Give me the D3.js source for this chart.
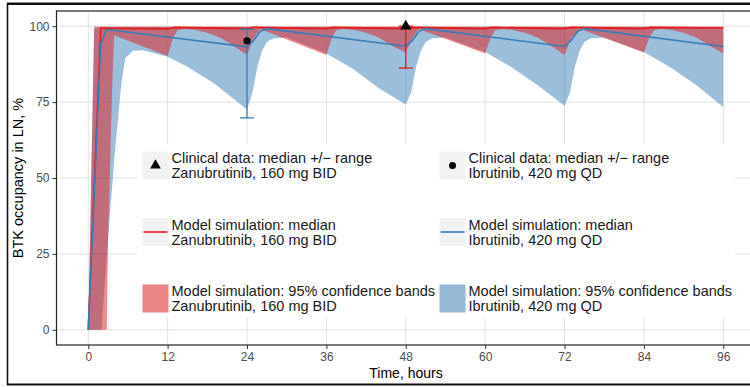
<!DOCTYPE html>
<html>
<head>
<meta charset="utf-8">
<script src="https://cdn.jsdelivr.net/npm/d3@7"></script>
<style>
body { margin: 0; background: #fff; }
svg { display: block; font-family: Arial, "Liberation Sans", sans-serif; }
</style>
</head>
<body>
<svg id="chart" width="750" height="387"></svg>
<script>
const xTicks = [0, 12, 24, 36, 48, 60, 72, 84, 96];
const yTicks = [0, 25, 50, 75, 100];

// [time in hours, BTK occupancy %]
const zanuMedian = [[0,0],[1.9,99.3],[12,99.1],[13,99.6],[24,99.2],[25,99.6],[36,99.2],[37,99.6],[48,99.2],[49,99.6],[60,99.2],[61,99.6],[72,99.2],[73,99.6],[84,99.2],[85,99.6],[96,99.4]];
const zanuUpper = [[0,0],[0.9,99.9],[96,99.9]];
const zanuLower = [[0,0],[2.8,0],[3.0,30],[3.6,79],[3.9,97],[12,90.2],[12.8,96],[13.5,98.7],[14.5,99.1],[16,98.8],[18,97.8],[20,96.2],[22,93.5],[24,90.5],
  [25,96],[26,99.1],[36,90.5],[36.8,96],[37.5,98.7],[38.5,99.1],[40,98.8],[42,97.8],[44,96.2],[46,93.5],[48,91.3],
  [49,96],[50,99.1],[60,91],[60.8,96],[61.5,98.7],[62.5,99.1],[64,98.8],[66,97.8],[68,96.2],[70,93.5],[72,90.5],
  [73,96],[74.4,99.1],[84,91.3],[84.8,96],[85.5,98.7],[86.5,99.1],[88,98.8],[90,97.8],[92,96.2],[94,93.5],[96,91]];

const ibruMedian = [[0,0],[1.9,94.5],[2.8,98.9],[24,93.2],[25,95.3],[26,98.3],[27,99.2],[48,93.4],[49,95.3],[50,98.3],[51,99.2],[72,93.3],[73,95.3],[74,98.3],[75,99.2],[96,93.3]];
const ibruUpper = [[0,0],[0.9,99.3],[2,99.7],[96,99.7]];
const ibruLower = [[0,0],[2,0],[3,30],[4,58],[5,81],[5.6,89.5],[6.8,91.9],[8.3,92.1],[12,89.9],[15,86.6],[19,81.2],[24,72.6],
  [24.8,78],[25.6,87],[26.3,92],[27,94.8],[28,96],[30,96.3],[36,91],[40,86],[44,79.5],[48,74.2],
  [48.8,78],[49.6,87],[50.3,92],[51,94.8],[52,96],[54,96.3],[60,91.5],[64,86.5],[68,80.5],[72,73.8],
  [72.8,78],[73.6,87],[74.3,92],[75,94.8],[76,96],[78,96.3],[84,91.5],[88,86.5],[92,80.5],[96,73.4]];

// clinical data: [time, median, min, max]
const zanuClinical = [[48, 100, 86.2, 100]];
const ibruClinical = [[24, 95.2, 69.8, 99.0]];

const legendTitles = ["Clinical data: median +/\u2212 range", "Model simulation: median", "Model simulation: 95% confidence bands"];
const drugNames = ["Zanubrutinib, 160 mg BID", "Ibrutinib, 420 mg QD"];

const red = "#E41A1C";
const blue = "#377EB8";

const svg = d3.select("#chart");
const x = d3.scaleLinear().domain([-4.8, 100.8]).range([56.5, 755]);
const y = d3.scaleLinear().domain([-5, 105]).range([345, 11]);

// grid
const grid = svg.append("g");
grid.selectAll(".gx").data(xTicks).enter().append("line")
  .attr("x1", d => x(d)).attr("x2", d => x(d)).attr("y1", 11).attr("y2", 345)
  .attr("stroke", "#e2e2e2").attr("stroke-width", 1);
grid.selectAll(".gy").data(yTicks).enter().append("line")
  .attr("x1", 56.5).attr("x2", 755).attr("y1", d => y(d)).attr("y2", d => y(d))
  .attr("stroke", "#e2e2e2").attr("stroke-width", 1);

const line = d3.line().x(d => x(d[0])).y(d => y(d[1]));
function band(lo, hi) { return line(hi.concat(lo.slice().reverse())) + "Z"; }

svg.append("path").attr("d", band(ibruLower, ibruUpper)).attr("fill", blue).attr("fill-opacity", 0.5);
svg.append("path").attr("d", band(zanuLower, zanuUpper)).attr("fill", red).attr("fill-opacity", 0.5);

svg.append("path").attr("d", line(zanuMedian)).attr("fill", "none").attr("stroke", red).attr("stroke-width", 1.6);
svg.append("path").attr("d", line(ibruMedian)).attr("fill", "none").attr("stroke", blue).attr("stroke-width", 1.6);

// error bars
function errorbars(data, col) {
  const g = svg.append("g").attr("stroke", col).attr("stroke-width", 1.3);
  data.forEach(d => {
    g.append("line").attr("x1", x(d[0])).attr("x2", x(d[0])).attr("y1", y(d[2])).attr("y2", y(d[3]));
    g.append("line").attr("x1", x(d[0]) - 7).attr("x2", x(d[0]) + 7).attr("y1", y(d[2])).attr("y2", y(d[2]));
    g.append("line").attr("x1", x(d[0]) - 7).attr("x2", x(d[0]) + 7).attr("y1", y(d[3])).attr("y2", y(d[3]));
  });
}
errorbars(zanuClinical, red);
errorbars(ibruClinical, blue);

svg.selectAll(".tri").data(zanuClinical).enter().append("path")
  .attr("d", d3.symbol(d3.symbolTriangle, 55))
  .attr("transform", d => "translate(" + x(d[0]) + "," + y(d[1]) + ")")
  .attr("fill", "#000");
svg.selectAll(".dot").data(ibruClinical).enter().append("circle")
  .attr("cx", d => x(d[0])).attr("cy", d => y(d[1])).attr("r", 3.6)
  .attr("fill", "#000");

// panel border
svg.append("rect").attr("x", 56.5).attr("y", 11).attr("width", 700).attr("height", 334)
  .attr("fill", "none").attr("stroke", "#222").attr("stroke-width", 1.2);

// axes
const xAxis = svg.append("g").attr("transform", "translate(0,345)")
  .call(d3.axisBottom(x).tickValues(xTicks).tickSize(4).tickPadding(3));
const yAxis = svg.append("g").attr("transform", "translate(56.5,0)")
  .call(d3.axisLeft(y).tickValues(yTicks).tickSize(4).tickPadding(3));
[xAxis, yAxis].forEach(a => {
  a.select(".domain").remove();
  a.selectAll(".tick line").attr("stroke", "#333");
  a.selectAll(".tick text").attr("fill", "#4d4d4d").style("font-size", "12px")
    .style("font-family", "Arial, 'Liberation Sans', sans-serif");
});

svg.append("text").attr("x", 406).attr("y", 378).attr("text-anchor", "middle")
  .style("font-size", "14px").attr("fill", "#000").text("Time, hours");
svg.append("text").attr("transform", "translate(23,178) rotate(-90)").attr("text-anchor", "middle")
  .style("font-size", "14.5px").attr("fill", "#000").text("BTK occupancy in LN, %");

// legend
const leg = svg.append("g");
leg.append("rect").attr("x", 137).attr("y", 144).attr("width", 598).attr("height", 173).attr("fill", "#fff");
const colX = [142.5, 439.5];
const rowY = [151.5, 218, 284.5];
const keyW = 26, keyH = 28;
const cols = [red, blue];
for (let c = 0; c < 2; c++) {
  for (let r = 0; r < 3; r++) {
    const kx = colX[c], ky = rowY[r], cy = ky + keyH / 2;
    leg.append("rect").attr("x", kx).attr("y", ky).attr("width", keyW).attr("height", keyH).attr("fill", "#f2f2f2");
    if (r === 0) {
      if (c === 0) {
        leg.append("path").attr("d", d3.symbol(d3.symbolTriangle, 50))
          .attr("transform", "translate(" + (kx + keyW / 2) + "," + cy + ")").attr("fill", "#000");
      } else {
        leg.append("circle").attr("cx", kx + keyW / 2).attr("cy", cy).attr("r", 3.5).attr("fill", "#000");
      }
    } else if (r === 1) {
      leg.append("line").attr("x1", kx + 1).attr("x2", kx + keyW - 1).attr("y1", cy).attr("y2", cy)
        .attr("stroke", cols[c]).attr("stroke-width", 1.6);
    } else {
      leg.append("rect").attr("x", kx).attr("y", ky).attr("width", keyW).attr("height", keyH)
        .attr("fill", cols[c]).attr("fill-opacity", 0.5);
    }
    const t = leg.append("text").attr("x", kx + keyW + 3).attr("y", cy - 2.2)
      .style("font-size", "14.5px").attr("fill", "#1a1a1a");
    t.append("tspan").attr("x", kx + keyW + 3).text(legendTitles[r]);
    t.append("tspan").attr("x", kx + keyW + 3).attr("dy", 15).text(drugNames[c]);
  }
}

// outer frame
svg.append("line").attr("x1", 7).attr("x2", 750).attr("y1", 3.8).attr("y2", 3.8).attr("stroke", "#111").attr("stroke-width", 2.5);
svg.append("line").attr("x1", 7.5).attr("x2", 7.5).attr("y1", 3).attr("y2", 385).attr("stroke", "#111").attr("stroke-width", 1.6);
svg.append("line").attr("x1", 7).attr("x2", 750).attr("y1", 384.5).attr("y2", 384.5).attr("stroke", "#111").attr("stroke-width", 2);
</script>
</body>
</html>
